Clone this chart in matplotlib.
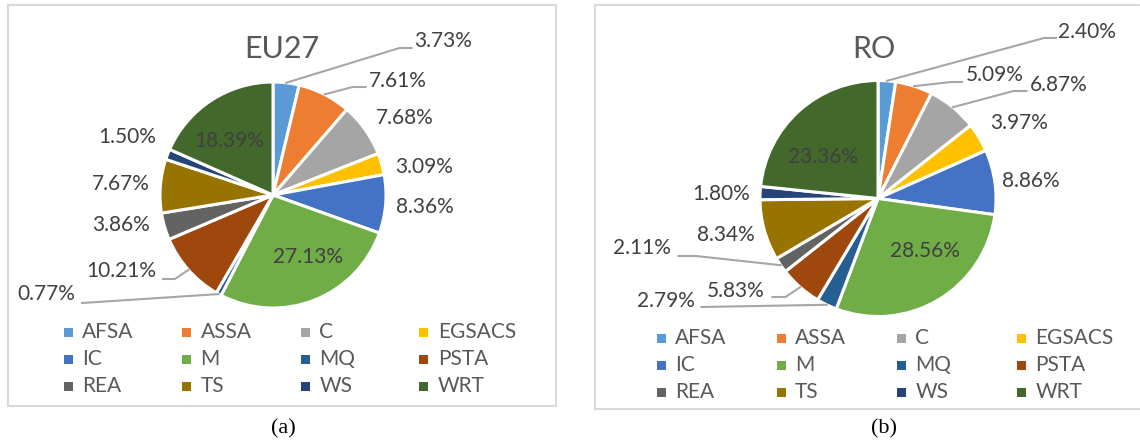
import matplotlib
matplotlib.use('Agg')
import matplotlib.pyplot as plt
from matplotlib.patches import Rectangle
import numpy as np

# Sector share of each economy, in percent
sectors = ['AFSA', 'ASSA', 'C', 'EGSACS', 'IC', 'M', 'MQ', 'PSTA', 'REA', 'TS', 'WS', 'WRT']
eu27 = [3.73, 7.61, 7.68, 3.09, 8.36, 27.13, 0.77, 10.21, 3.86, 7.67, 1.50, 18.39]
ro = [2.40, 5.09, 6.87, 3.97, 8.86, 28.56, 2.79, 5.83, 2.11, 8.34, 1.80, 23.36]

colors = ['#5B9BD5', '#ED7D31', '#A5A5A5', '#FFC000', '#4472C4', '#70AD47',
	'#255E91', '#9E480E', '#636363', '#997300', '#264478', '#43682B']

W, H = 1140, 445
FONT = 'Lato'

# Layout of each panel, in pixels of the figure (y from the top)
eu_layout = {
	'title': 'EU27', 'title_pos': (281.5, 49),
	'center': (273, 195), 'r': 113,
	'frame': (7.5, 5, 556, 406),
	'legend': (68, 332, 118.6, 27),
	'caption': ('(a)', 283.5, 429),
	'labels': [(443.5, 41), (398, 81), (405, 118), (424.5, 167), (424.5, 207), (307.5, 257),
		(46.5, 294), (121, 271), (121, 225), (121, 184), (127, 137), (229, 141)],
	'leaders': {0: [(399.5, 48), (411.5, 48)], 1: [(352.5, 87), (365.5, 87)],
		6: [(82, 303)], 7: [(175, 279), (163, 279)]},
}

ro_layout = {
	'title': 'RO', 'title_pos': (873.5, 49),
	'center': (878, 198.5), 'r': 118,
	'frame': (595, 5, 1141, 409),
	'legend': (661, 338, 120.1, 27),
	'caption': ('(b)', 883.5, 429),
	'labels': [(1087, 32), (995, 75), (1059, 85), (1019, 123), (1031, 181), (924.5, 251),
		(666, 301), (736, 291), (642, 248), (726, 235), (721.5, 194), (823, 157)],
	'leaders': {0: [(1044, 38), (1056, 38)], 1: [(951, 82), (962, 82)],
		2: [(1013.5, 91), (1026.5, 91)], 6: [(701.5, 307)],
		7: [(785.5, 297), (772.5, 297)], 8: [(696, 256), (678.5, 256)]},
}

# Draw one pie panel with its labels, leaders and legend
def panel(fig, ov, values, lay):
	cx, cy = lay['center']
	r = lay['r']
	ax = fig.add_axes([(cx - r) / W, (H - cy - r) / H, 2 * r / W, 2 * r / H])
	wedges, _ = ax.pie(values, colors=colors, startangle=90, counterclock=False,
		wedgeprops={'edgecolor': 'white', 'linewidth': 2.2})
	ax.set_aspect('auto')
	ax.set_xlim(-1, 1)
	ax.set_ylim(-1, 1)

	# frame
	x0, y0, x1, y1 = lay['frame']
	ov.add_patch(Rectangle((x0, y0), x1 - x0, y1 - y0, fill=False, edgecolor='#D9D9D9', linewidth=1.5))

	# title
	tx, ty = lay['title_pos']
	ov.text(tx, ty, lay['title'], fontsize=22, color='#595959', ha='center', va='center', family=FONT)

	for i, w in enumerate(wedges):
		mid = np.radians((w.theta1 + w.theta2) / 2)
		px, py = lay['labels'][i]
		ov.text(px, py, '%.2f%%' % values[i], fontsize=15, color='#404040',
			ha='center', va='center', family=FONT, zorder=5)
		if i in lay['leaders']:
			pts = [(cx + r * np.cos(mid), cy - r * np.sin(mid))] + lay['leaders'][i]
			xs, ys = zip(*pts)
			ov.plot(xs, ys, color='#A6A6A6', linewidth=1.5, zorder=4)

	# legend, row by row
	lx, ly, dx, dy = lay['legend']
	for i, name in enumerate(sectors):
		row, col = divmod(i, 4)
		mx, my = lx + col * dx, ly + row * dy
		ov.add_patch(Rectangle((mx - 4.5, my - 4.5), 9, 9, facecolor=colors[i], edgecolor='none'))
		ov.text(mx + 14, my, name, fontsize=15, color='#595959', ha='left', va='center', family=FONT)

	cap, capx, capy = lay['caption']
	ov.text(capx, capy, cap, fontsize=16, color='black', ha='center', va='center', family='Liberation Serif')

def main():
	fig = plt.figure(figsize=(W / 100, H / 100), dpi=100)
	ov = fig.add_axes([0, 0, 1, 1], zorder=10)
	ov.set_xlim(0, W)
	ov.set_ylim(H, 0)
	ov.axis('off')
	ov.patch.set_alpha(0)

	panel(fig, ov, eu27, eu_layout)
	panel(fig, ov, ro, ro_layout)

	fig.savefig('out.png', dpi=100, facecolor='white')

if __name__ == "__main__":
	main()
